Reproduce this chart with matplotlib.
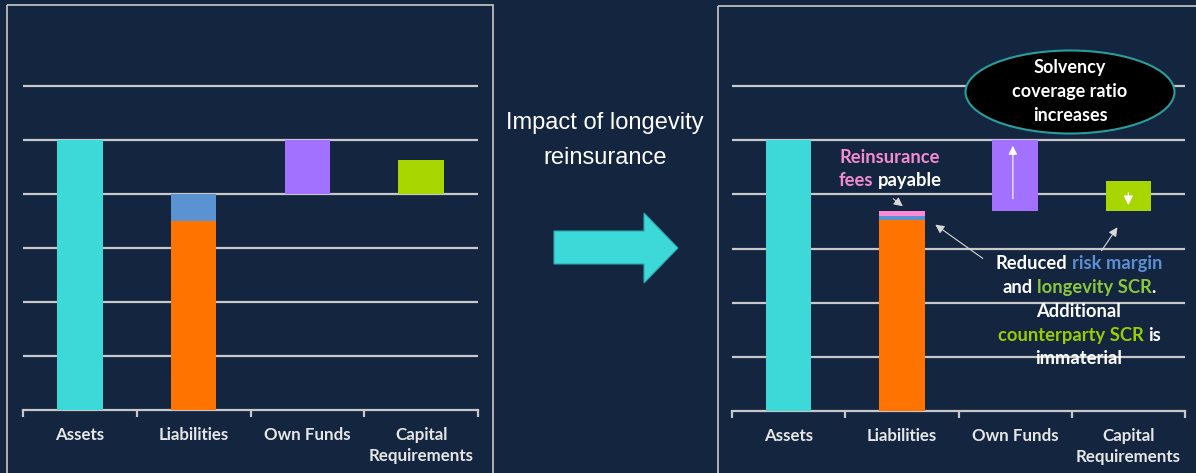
import numpy as np
import matplotlib
matplotlib.use("Agg")
import matplotlib.pyplot as plt
from matplotlib.patches import Rectangle, Ellipse, Polygon

BG = "#13253f"
GRID = "#c8c8c8"
LABEL = "#e6e6e6"
WHITE = "#ffffff"
PINK = "#f38bd0"
BLUE_TXT = "#5b8fd4"
GREEN_TXT = "#8cc63e"
GREEN2_TXT = "#9acd00"

CATEGORIES = ["Assets", "Liabilities", "Own Funds", "Capital\nRequirements"]
BAR_COLORS = ["#3dd8d8", "#ff7300", "#a271ff", "#a8d600"]
RM_COLOR = "#5b93d2"
FEE_COLOR = "#ff8ad8"

# before reinsurance (left)
LEFT_BOTTOM = [0, 0, 4.0, 4.0]
LEFT_HEIGHT = [5.0, 3.5, 1.0, 0.63]
LEFT_RISK_MARGIN = 0.5
LEFT_FEES = 0.0

# after reinsurance (right)
RIGHT_BOTTOM = [0, 0, 3.7, 3.7]
RIGHT_HEIGHT = [5.0, 3.52, 1.3, 0.54]
RIGHT_RISK_MARGIN = 0.09
RIGHT_FEES = 0.09

W, H = 1196, 473
plt.rcParams['font.family'] = ['Lato', 'DejaVu Sans']

fig = plt.figure(figsize=(W / 100, H / 100), dpi=100, facecolor=BG)


def px_axes(x0, x1, y_base, y_top):
    return fig.add_axes([x0 / W, (H - y_base) / H, (x1 - x0) / W, (y_base - y_top) / H])


def draw_panel(ax, bottoms, heights, rm, fees):
    ax.set_facecolor("none")
    x = np.arange(len(CATEGORIES))
    ax.bar(x, heights, bottom=bottoms, width=0.4, color=BAR_COLORS, zorder=3)
    liab_top = bottoms[1] + heights[1]
    ax.bar(1, rm, bottom=liab_top, width=0.4, color=RM_COLOR, zorder=3)
    if fees:
        ax.bar(1, fees, bottom=liab_top + rm, width=0.4, color=FEE_COLOR, zorder=3)
    ax.set_xlim(-0.5, 3.5)
    ax.set_ylim(0, 7)
    ax.set_yticks(range(1, 7))
    ax.yaxis.grid(True, color=GRID, lw=1.6)
    ax.set_axisbelow(True)
    ax.tick_params(axis="y", length=0, labelleft=False)
    ax.set_xticks(x)
    ax.set_xticklabels(CATEGORIES, color=LABEL, fontsize=12.2, fontweight="bold", linespacing=1.4)
    ax.tick_params(axis="x", which="major", length=0, pad=12)
    ax.set_xticks(np.arange(-0.5, 4, 1), minor=True)
    ax.tick_params(axis="x", which="minor", length=5, width=1.6, color=GRID)
    for s in ["top", "left", "right"]:
        ax.spines[s].set_visible(False)
    ax.spines["bottom"].set_color(GRID)
    ax.spines["bottom"].set_linewidth(1.6)


ax_l = px_axes(23, 478, 410, 32)
draw_panel(ax_l, LEFT_BOTTOM, LEFT_HEIGHT, LEFT_RISK_MARGIN, LEFT_FEES)

ax_r = px_axes(732, 1185, 411, 32)
draw_panel(ax_r, RIGHT_BOTTOM, RIGHT_HEIGHT, RIGHT_RISK_MARGIN, RIGHT_FEES)

# arrows inside own funds / capital requirement bars
ax_r.annotate("", xy=(1.98, RIGHT_BOTTOM[2] + RIGHT_HEIGHT[2] - 0.05), xytext=(1.98, 3.87),
              arrowprops=dict(arrowstyle="-|>", color=WHITE, lw=0.8, mutation_scale=13), zorder=5)
ax_r.annotate("", xy=(3.0, 3.75), xytext=(3.0, 4.08),
              arrowprops=dict(arrowstyle="-|>", color=WHITE, lw=0.9, mutation_scale=14), zorder=5)

# overlay in image pixel coordinates
ov = fig.add_axes([0, 0, 1, 1])
ov.set_xlim(0, W)
ov.set_ylim(H, 0)
ov.axis("off")
ov.patch.set_visible(False)

ov.add_patch(Rectangle((7, 5), 486, 470, fill=False, ec="#c8c8c8", lw=1.2))
ov.add_patch(Rectangle((718, 6), 490, 470, fill=False, ec="#c8c8c8", lw=1.2))

ov.text(605, 123, "Impact of longevity", color=WHITE, fontsize=17, ha="center", va="center",
        family="Liberation Sans")
ov.text(605, 158, "reinsurance", color=WHITE, fontsize=17, ha="center", va="center",
        family="Liberation Sans")
ov.add_patch(Polygon([(554, 231), (644, 231), (644, 213), (678, 248), (644, 283), (644, 264), (554, 264)],
                     closed=True, fc="#3dd8d8", ec="#2aa8a8", lw=0.8))

ov.add_patch(Ellipse((1070, 92), 209, 83, fc="black", ec="#2a9d9d", lw=1.5))
for yy, s in zip([68, 92, 115], ["Solvency", "coverage ratio", "increases"]):
    ov.text(1070, yy, s, color=WHITE, fontsize=13, fontweight="bold", ha="center", va="center")

renderer = fig.canvas.get_renderer()


def text_width(s, size):
    t = ov.text(0, 0, s, fontsize=size, fontweight="bold")
    w = t.get_window_extent(renderer).width
    t.remove()
    return w


def colored_line(xc, y, parts, size=13.2):
    sp = text_width("a a", size) - text_width("aa", size)
    widths = []
    for s, c in parts:
        widths.append(sp if s == " " else text_width(s, size))
    x = xc - sum(widths) / 2
    for (s, c), w in zip(parts, widths):
        if s != " ":
            ov.text(x, y, s, color=c, fontsize=size, fontweight="bold", ha="left", va="center")
        x += w


colored_line(890, 157, [("Reinsurance", PINK)])
colored_line(890, 180, [("fees", PINK), (" ", None), ("payable", WHITE)])

colored_line(1079, 263, [("Reduced", WHITE), (" ", None), ("risk margin", BLUE_TXT)])
colored_line(1079, 287, [("and", WHITE), (" ", None), ("longevity SCR", GREEN_TXT), (".", WHITE)])
colored_line(1079, 311, [("Additional", WHITE)])
colored_line(1079, 335, [("counterparty SCR", GREEN2_TXT), (" ", None), ("is", WHITE)])
colored_line(1079, 358, [("immaterial", WHITE)])

arrow_kw = dict(arrowstyle="-|>", color="#d8d8d8", lw=0.8, mutation_scale=13)
ov.annotate("", xy=(905, 208), xytext=(891, 197), arrowprops=arrow_kw)
ov.annotate("", xy=(933, 223), xytext=(985, 260), arrowprops=arrow_kw)
ov.annotate("", xy=(1119, 225), xytext=(1100, 253), arrowprops=arrow_kw)

fig.savefig("out.png", dpi=100, facecolor=BG)
